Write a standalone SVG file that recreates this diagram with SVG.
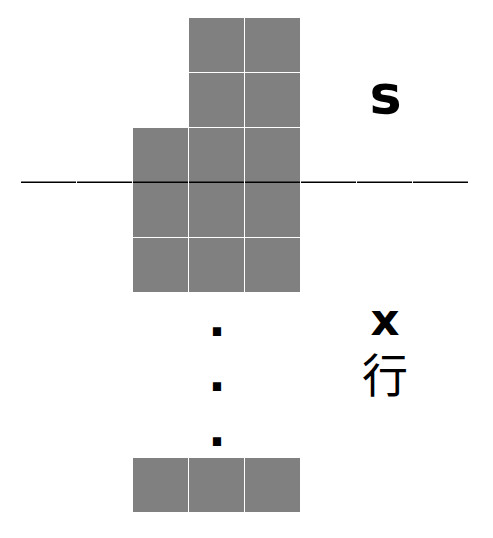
<svg xmlns="http://www.w3.org/2000/svg" width="493" height="538" viewBox="0 0 493 538">
<style>
.c{fill:#808080}
.ln{stroke:#000;stroke-width:1.5;fill:none}
.b{font-family:"DejaVu Sans","Liberation Sans",sans-serif;font-weight:bold;fill:#000;text-anchor:middle}
.d{font-family:"DejaVu Sans",sans-serif;font-weight:bold;fill:#000;text-anchor:middle;font-size:46px}
.k{font-family:"Liberation Sans","Noto Sans CJK SC",sans-serif;fill:#000;text-anchor:middle;font-size:46px}
</style>
<g id="grid">
<rect class="c" x="189" y="18" width="55" height="54"/>
<rect class="c" x="245" y="18" width="55" height="54"/>
<rect class="c" x="189" y="73" width="55" height="54"/>
<rect class="c" x="245" y="73" width="55" height="54"/>
<rect class="c" x="133" y="128" width="55" height="54"/>
<rect class="c" x="189" y="128" width="55" height="54"/>
<rect class="c" x="245" y="128" width="55" height="54"/>
<rect class="c" x="133" y="183" width="55" height="54"/>
<rect class="c" x="189" y="183" width="55" height="54"/>
<rect class="c" x="245" y="183" width="55" height="54"/>
<rect class="c" x="133" y="238" width="55" height="54"/>
<rect class="c" x="189" y="238" width="55" height="54"/>
<rect class="c" x="245" y="238" width="55" height="54"/>
</g>
<g id="bottom-row">
<rect class="c" x="133" y="458" width="55" height="54"/>
<rect class="c" x="189" y="458" width="55" height="54"/>
<rect class="c" x="245" y="458" width="55" height="54"/>
</g>
<g id="axis">
<line class="ln" x1="21" y1="182.3" x2="76" y2="182.3"/>
<line class="ln" x1="77" y1="182.3" x2="132" y2="182.3"/>
<line class="ln" x1="133" y1="182.3" x2="188" y2="182.3"/>
<line class="ln" x1="189" y1="182.3" x2="244" y2="182.3"/>
<line class="ln" x1="245" y1="182.3" x2="300" y2="182.3"/>
<line class="ln" x1="301" y1="182.3" x2="356" y2="182.3"/>
<line class="ln" x1="357" y1="182.3" x2="412" y2="182.3"/>
<line class="ln" x1="413" y1="182.3" x2="468" y2="182.3"/>
</g>
<g id="dots">
<text class="d" x="217" y="336">.</text>
<text class="d" x="217" y="391">.</text>
<text class="d" x="217" y="446">.</text>
</g>
<g id="labels">
<text class="b" x="385.5" y="113" font-size="54">s</text>
<text class="b" x="385" y="335" font-size="45">x</text>
<text class="k" x="385" y="392">行</text>
</g>
</svg>
